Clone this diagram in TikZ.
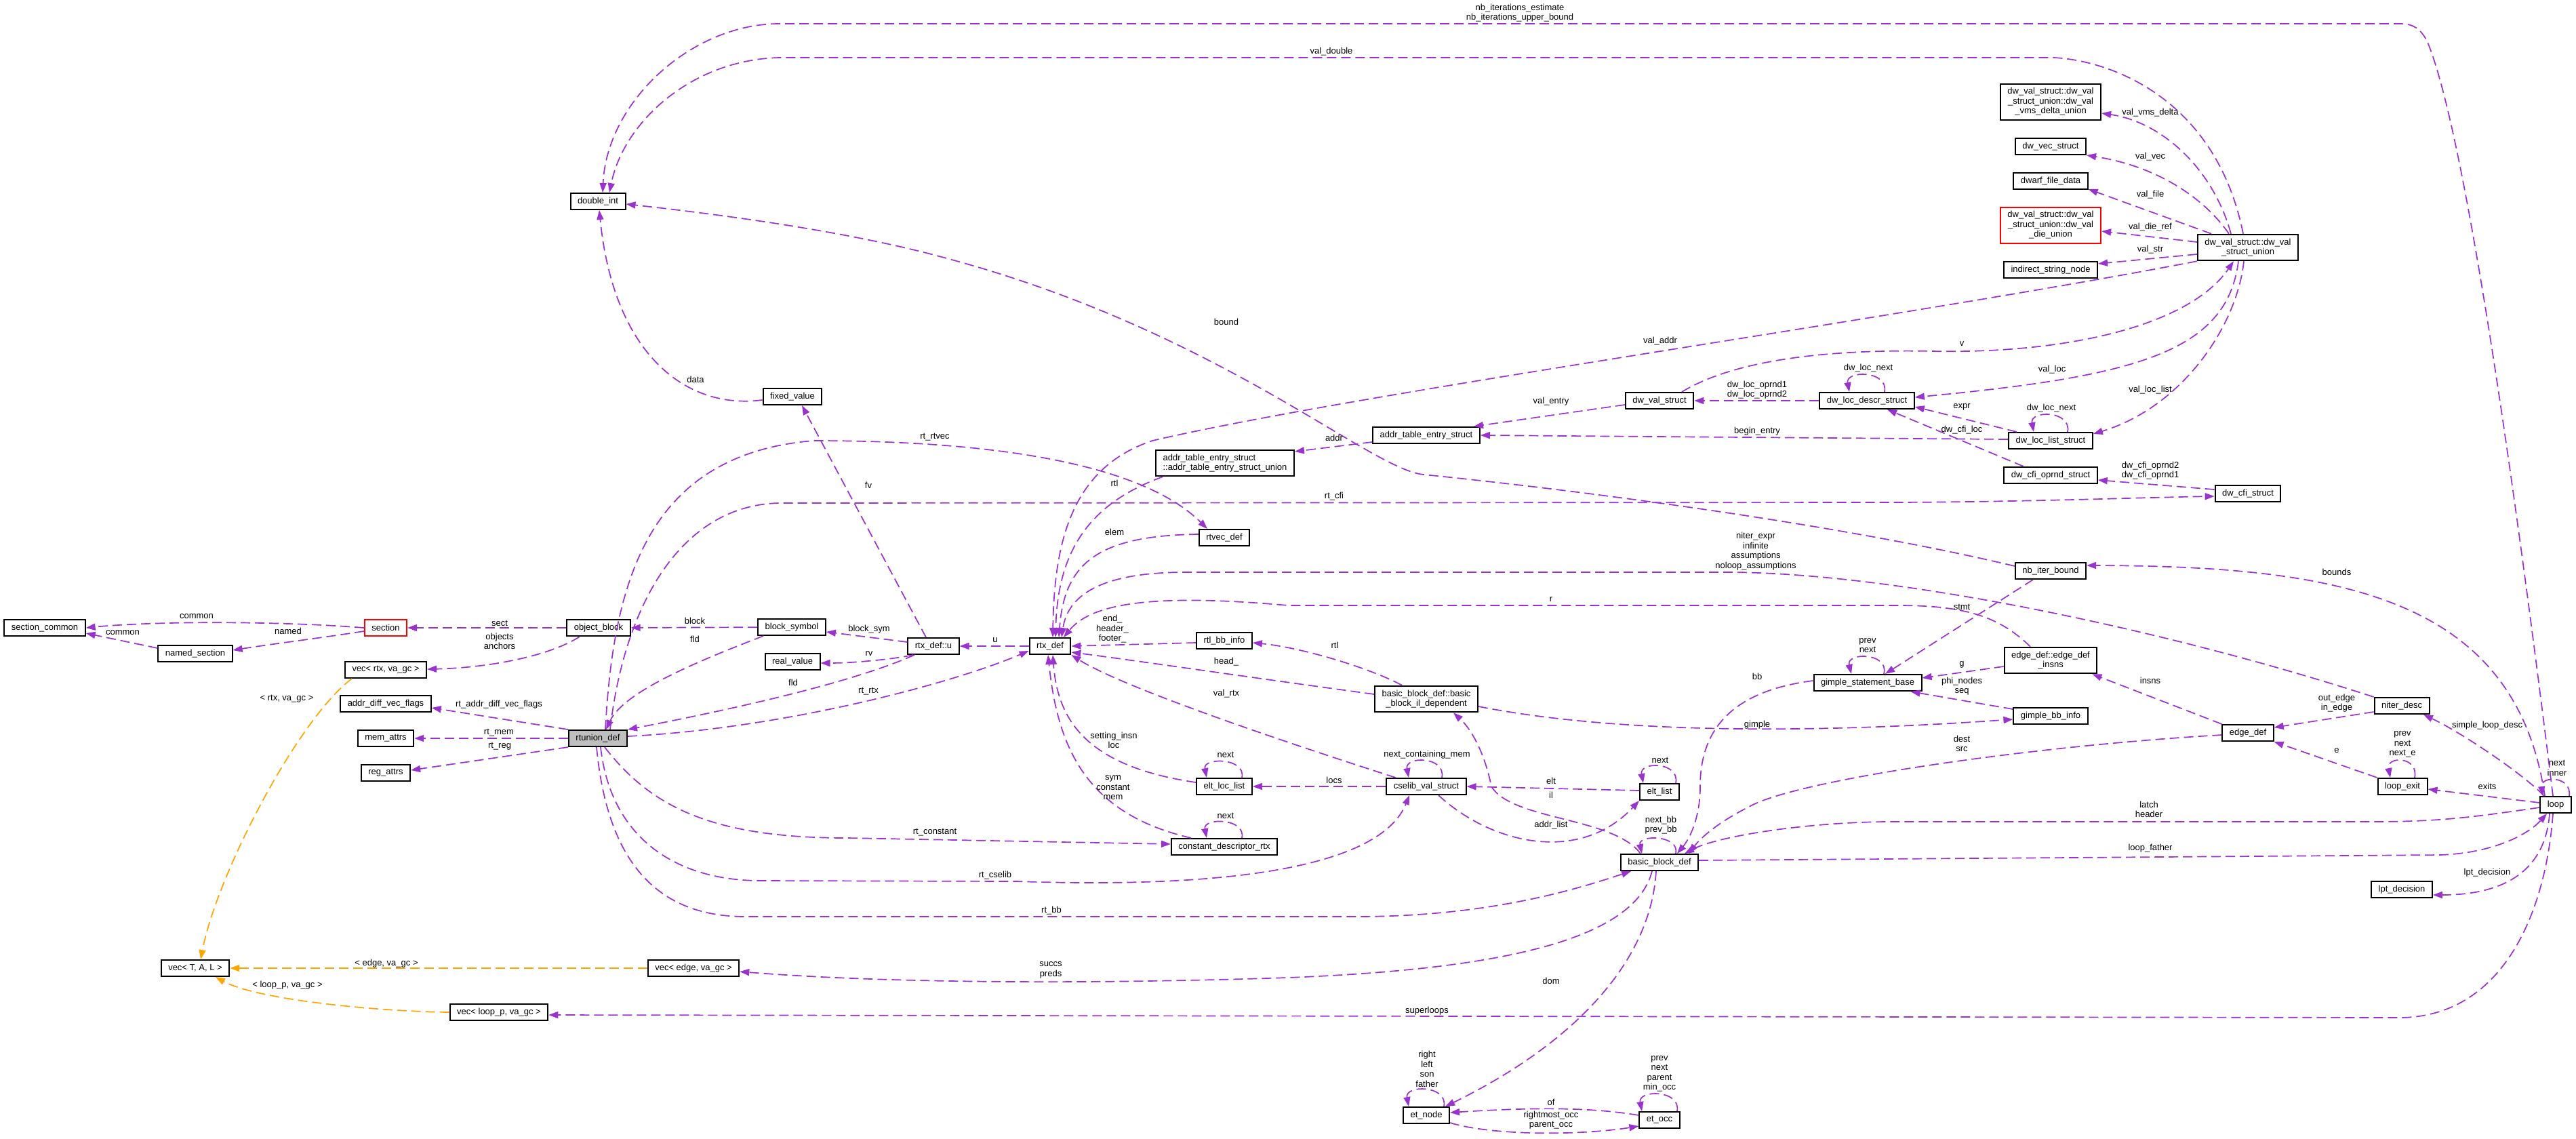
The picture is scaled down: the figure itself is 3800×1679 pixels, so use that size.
\documentclass[tikz,border=0pt]{standalone}
\usepackage{fontspec}
\setmainfont{Liberation Sans}
\usepackage{xcolor}
\usepackage{tikz}
\usetikzlibrary{arrows.meta,calc}

\definecolor{figpurple}{HTML}{9A32CD}
\definecolor{figorange}{HTML}{FFA500}
\definecolor{figgray}{HTML}{BFBFBF}
\definecolor{figred}{HTML}{FF0000}

\tikzset{
  figclass/.style={
    draw,
    rectangle,
    fill=white,
    line width=2pt,
    align=center,
    font=\fontsize{13}{14.5}\selectfont,
    minimum height=24pt,
    inner xsep=10.5pt,
    inner ysep=6pt
  },
  figclassgray/.style={
    figclass,
    fill=figgray
  },
  figclassred/.style={
    figclass,
    draw=figred
  },
  figedge/.style={
    draw=figpurple,
    line width=1.7pt,
    dash pattern=on 14pt off 7pt,
    -{Triangle[length=14pt,width=10pt]}
  },
  figtmpl/.style={
    figedge,
    draw=figorange
  },
  figlabel/.style={
    font=\fontsize{13}{14.5}\selectfont,
    align=center,
    inner sep=0pt
  }
}

\begin{document}
\begin{tikzpicture}[
    x=1pt,
    y=-1pt
    ]

    \path[use as bounding box, fill=white] (0,0) rectangle (3800,1679);

    \node[figclass] (sectioncommon) at (66,926) {section\_common};
    \node[figclass] (namedsection) at (288,964) {named\_section};
    \node[figclassred] (section) at (569,926) {section};
    \node[figclass] (objectblock) at (883,926) {object\_block};
    \node[figclass] (vecrtx) at (569,988) {vec< rtx, va\_gc >};
    \node[figclass] (addrdiffvecflags) at (569,1038) {addr\_diff\_vec\_flags};
    \node[figclass] (memattrs) at (569,1089) {mem\_attrs};
    \node[figclass] (regattrs) at (569,1140) {reg\_attrs};
    \node[figclassgray] (rtuniondef) at (882,1089) {rtunion\_def};
    \node[figclass] (vectal) at (288,1428) {vec< T, A, L >};
    \node[figclass] (vecedge) at (1023,1428) {vec< edge, va\_gc >};
    \node[figclass] (vecloop) at (736,1493) {vec< loop\_p, va\_gc >};
    \node[figclass] (doubleint) at (882,297) {double\_int};
    \node[figclass] (fixedvalue) at (1169,585) {fixed\_value};
    \node[figclass] (blocksymbol) at (1168,925) {block\_symbol};
    \node[figclass] (realvalue) at (1169,976) {real\_value};
    \node[figclass] (rtxdefu) at (1377,953) {rtx\_def::u};
    \node[figclass] (rtxdef) at (1549,953) {rtx\_def};
    \node[figclass] (rtvecdef) at (1806,793) {rtvec\_def};
    \node[figclass, align=left] (addrunion) at (1807,683) {addr\_table\_entry\_struct\\::addr\_table\_entry\_struct\_union};
    \node[figclass] (rtlbbinfo) at (1806,945) {rtl\_bb\_info};
    \node[figclass] (eltloclist) at (1806,1160) {elt\_loc\_list};
    \node[figclass] (constdescrtx) at (1806,1249) {constant\_descriptor\_rtx};
    \node[figclass] (bbildep) at (2104,1031) {basic\_block\_def::basic\\\_block\_il\_dependent};
    \node[figclass] (cselib) at (2104,1160) {cselib\_val\_struct};
    \node[figclass] (addrtableentry) at (2104,642) {addr\_table\_entry\_struct};
    \node[figclass] (dwvalstruct) at (2448,591) {dw\_val\_struct};
    \node[figclass] (eltlist) at (2448,1168) {elt\_list};
    \node[figclass] (basicblockdef) at (2448,1272) {basic\_block\_def};
    \node[figclass] (etnode) at (2104,1645) {et\_node};
    \node[figclass] (etocc) at (2448,1652) {et\_occ};
    \node[figclass] (dwlocdescr) at (2754,591) {dw\_loc\_descr\_struct};
    \node[figclass] (gimplestmt) at (2755,1007) {gimple\_statement\_base};
    \node[figclass] (dwloclist) at (3025,650) {dw\_loc\_list\_struct};
    \node[figclass] (dwcfioprnd) at (3025,701) {dw\_cfi\_oprnd\_struct};
    \node[figclass] (nbiterbound) at (3025,842) {nb\_iter\_bound};
    \node[figclass] (edgedefinsns) at (3025,974) {edge\_def::edge\_def\\\_insns};
    \node[figclass] (gimplebbinfo) at (3025,1056) {gimple\_bb\_info};
    \node[figclass] (vmsdelta) at (3025,150) {dw\_val\_struct::dw\_val\\\_struct\_union::dw\_val\\\_vms\_delta\_union};
    \node[figclass] (dwvecstruct) at (3025,216) {dw\_vec\_struct};
    \node[figclass] (dwarffiledata) at (3025,267) {dwarf\_file\_data};
    \node[figclassred] (dieunion) at (3025,332) {dw\_val\_struct::dw\_val\\\_struct\_union::dw\_val\\\_die\_union};
    \node[figclass] (indirectstring) at (3025,398) {indirect\_string\_node};
    \node[figclass] (dwunion) at (3316,365) {dw\_val\_struct::dw\_val\\\_struct\_union};
    \node[figclass] (dwcfistruct) at (3316,728) {dw\_cfi\_struct};
    \node[figclass] (edgedef) at (3316,1081) {edge\_def};
    \node[figclass] (niterdesc) at (3543,1041) {niter\_desc};
    \node[figclass] (loopexit) at (3544,1160) {loop\_exit};
    \node[figclass] (lptdecision) at (3543,1312) {lpt\_decision};
    \node[figclass] (loop) at (3770,1187) {loop};

    \draw[figedge] (section.west) .. controls (430,917) and (240,915) .. (sectioncommon.east)
      node[figlabel] at (290,909) {common};
    \draw[figedge] ([yshift=8pt]namedsection.west) -- ([yshift=-8pt]sectioncommon.east)
      node[figlabel] at (181,933) {common};
    \draw[figedge] ([yshift=-5pt]section.west) .. controls (480,940) and (400,950) .. ([yshift=5pt]namedsection.east)
      node[figlabel] at (425,931) {named};
    \draw[figedge] (objectblock) -- (section)
      node[figlabel] at (737,919) {sect};
    \draw[figedge] ([xshift=-28pt]objectblock.south) .. controls (810,968) and (720,985) .. ([yshift=1pt]vecrtx.east)
      node[figlabel] at (737,946) {objects\\anchors};
    \draw[figtmpl] ([xshift=-50pt]vecrtx.south) .. controls (440,1060) and (320,1290) .. ([xshift=8pt]vectal.north)
      node[figlabel] at (423,1031) {< rtx, va\_gc >};
    \draw[figedge] (rtuniondef.north west) -- ([yshift=-6pt]addrdiffvecflags.east)
      node[figlabel] at (736,1039) {rt\_addr\_diff\_vec\_flags};
    \draw[figedge] (rtuniondef) -- (memattrs)
      node[figlabel] at (736,1081) {rt\_mem};
    \draw[figedge] (rtuniondef.south west) -- ([yshift=4pt]regattrs.east)
      node[figlabel] at (737,1101) {rt\_reg};
    \draw[figtmpl] (vecedge) -- (vectal)
      node[figlabel] at (570,1421) {< edge, va\_gc >};
    \draw[figtmpl] (vecloop.west) .. controls (560,1492) and (380,1475) .. ([xshift=30pt]vectal.south)
      node[figlabel] at (424,1453) {< loop\_p, va\_gc >};

    \draw[figedge] (blocksymbol) -- (objectblock)
      node[figlabel] at (1025,916) {block};
    \draw[figedge] ([xshift=-42pt]blocksymbol.south) .. controls (1030,975) and (920,1020) .. ([xshift=12pt]rtuniondef.north)
      node[figlabel] at (1025,943) {fld};
    \draw[figedge] ([yshift=6pt]rtxdefu.west) -- ([yshift=-7pt]blocksymbol.east)
      node[figlabel] at (1282,928) {block\_sym};
    \draw[figedge] ([xshift=-30pt]rtxdefu.south) .. controls (1320,972) and (1260,978) .. ([yshift=-2pt]realvalue.east)
      node[figlabel] at (1282,964) {rv};
    \draw[figedge] ([xshift=-28pt]rtxdefu.south) .. controls (1250,1010) and (1060,1050) .. (rtuniondef.north east)
      node[figlabel] at (1170,1007) {fld};
    \draw[figedge] ([yshift=3pt]rtuniondef.east) .. controls (1150,1075) and (1400,1010) .. ([yshift=-7pt]rtxdef.west)
      node[figlabel] at (1281,1020) {rt\_rtx};
    \draw[figedge] (rtxdef) -- (rtxdefu)
      node[figlabel] at (1468,944) {u};
    \draw[figedge] ([xshift=-11pt]rtxdefu.north) -- ([xshift=14pt]fixedvalue.south)
      node[figlabel] at (1281,716) {fv};
    \draw[figedge] ([yshift=-5pt]fixedvalue.west) .. controls (1010,605) and (905,520) .. ([xshift=2pt]doubleint.south)
      node[figlabel] at (1026,560) {data};
    \draw[figedge] ([xshift=11pt]rtuniondef.north) .. controls (905,850) and (960,670) .. (1200,650)
      .. controls (1450,650) and (1680,680) .. ([xshift=-25pt]rtvecdef.north)
      node[figlabel] at (1379,645) {rt\_rtvec};
    \draw[figedge] ([xshift=18pt]rtuniondef.north) .. controls (920,900) and (1000,745) .. (1150,742) -- (2800,741)
      .. controls (3000,740) and (3150,734) .. ([yshift=-4pt]dwcfistruct.west)
      node[figlabel] at (1968,732) {rt\_cfi};
    \draw[figedge] ([xshift=10pt]rtuniondef.south) .. controls (960,1190) and (1050,1236) .. (1250,1236)
      -- ([yshift=4pt]constdescrtx.west)
      node[figlabel] at (1379,1228) {rt\_constant};
    \draw[figedge] ([xshift=4pt]rtuniondef.south) .. controls (900,1230) and (990,1298) .. (1120,1299) -- (1500,1300)
      .. controls (1850,1312) and (2040,1270) .. ([xshift=-25pt]cselib.south)
      node[figlabel] at (1468,1291) {rt\_cselib};
    \draw[figedge] ([xshift=-2pt]rtuniondef.south) .. controls (895,1260) and (960,1352) .. (1100,1352) -- (2000,1352)
      .. controls (2200,1352) and (2330,1310) .. ([xshift=-42pt]basicblockdef.south)
      node[figlabel] at (1551,1343) {rt\_bb};

    \draw[figedge] ([yshift=-3pt]rtlbbinfo.west) -- (rtxdef.east)
      node[figlabel] at (1641,928) {end\_\\header\_\\footer\_};
    \draw[figedge] ([yshift=7pt]bbildep.west) .. controls (1850,1000) and (1680,975) .. ([yshift=-9pt]rtxdef.east)
      node[figlabel] at (1809,976) {head\_};
    \draw[figedge] ([xshift=-36pt]bbildep.north) .. controls (2020,985) and (1920,955) .. ([yshift=-3pt]rtlbbinfo.east)
      node[figlabel] at (1969,952) {rtl};
    \draw[figedge] ([xshift=-45pt]cselib.north) .. controls (1850,1080) and (1650,1010) .. (rtxdef.south east)
      node[figlabel] at (1809,1023) {val\_rtx};
    \draw[figedge] ([yshift=6pt]eltloclist.west) .. controls (1600,1130) and (1560,1060) .. ([xshift=4pt]rtxdef.south)
      node[figlabel] at (1643,1092) {setting\_insn\\loc};
    \draw[figedge] ([xshift=-49pt]constdescrtx.north) .. controls (1600,1200) and (1560,1100) .. ([xshift=-3pt]rtxdef.south)
      node[figlabel] at (1642,1162) {sym\\constant\\mem};
    \draw[figedge] ([yshift=5pt]rtvecdef.west) .. controls (1620,790) and (1570,830) .. ([xshift=13pt]rtxdef.north)
      node[figlabel] at (1644,785) {elem};
    \draw[figedge] ([xshift=-92pt]addrunion.south) .. controls (1600,745) and (1560,820) .. ([xshift=8pt]rtxdef.north)
      node[figlabel] at (1644,713) {rtl};
    \draw[figedge] (dwunion.south west) .. controls (2800,470) and (2000,580) .. (1700,650)
      .. controls (1580,690) and (1555,800) .. ([xshift=4pt]rtxdef.north)
      node[figlabel] at (2449,503) {val\_addr};
    \draw[figedge] (niterdesc.north west) .. controls (3200,930) and (2800,845) .. (2550,844) -- (1750,844)
      .. controls (1620,844) and (1575,880) .. ([xshift=17pt]rtxdef.north)
      node[figlabel] at (2590,813) {niter\_expr\\infinite\\assumptions\\noloop\_assumptions};
    \draw[figedge] ([xshift=-30pt]edgedefinsns.north) .. controls (2950,910) and (2900,893) .. (2800,893) -- (1900,893)
      .. controls (1700,875) and (1610,890) .. ([xshift=20pt]rtxdef.north)
      node[figlabel] at (2288,884) {r};

    \draw[figedge] ([yshift=-9pt]edgedefinsns.west) -- ([yshift=7pt]gimplestmt.east)
      node[figlabel] at (2894,980) {g};
    \draw[figedge] ([yshift=10pt]gimplebbinfo.west) -- ([xshift=-17pt]gimplestmt.south east)
      node[figlabel] at (2894,1012) {phi\_nodes\\seq};
    \draw[figedge] ([xshift=24pt]gimplestmt.north) .. controls +(8,-32) and +(-8,-32) .. ([xshift=-24pt]gimplestmt.north)
      node[figlabel] at (2755,952) {prev\\next};
    \draw[figedge] ([xshift=-26pt]nbiterbound.south) -- ([xshift=26pt]gimplestmt.north)
      node[figlabel] at (2894,895) {stmt};
    \draw[figedge] ([yshift=-11pt]bbildep.east) .. controls (2400,1085) and (2700,1080) .. ([yshift=-5pt]gimplebbinfo.west)
      node[figlabel] at (2592,1069) {gimple};
    \draw[figedge] ([yshift=3pt]gimplestmt.west) .. controls (2550,1020) and (2508,1080) .. (2508,1160)
      .. controls (2508,1210) and (2490,1240) .. ([xshift=26pt]basicblockdef.north)
      node[figlabel] at (2592,998) {bb};

    \draw[figedge] ([xshift=24pt]basicblockdef.north) .. controls +(6,-28) and +(-6,-28) .. ([xshift=-26pt]basicblockdef.north)
      node[figlabel] at (2450,1217) {next\_bb\\prev\_bb};
    \draw[figedge] ([xshift=24pt]eltlist.north) .. controls +(6,-32) and +(-6,-32) .. ([xshift=-24pt]eltlist.north)
      node[figlabel] at (2449,1121) {next};
    \draw[figedge] ([yshift=2pt]eltlist.west) -- (cselib.east)
      node[figlabel] at (2288,1152) {elt};
    \draw[figedge] ([xshift=18pt]cselib.south) .. controls (2200,1245) and (2330,1275) .. (eltlist.south west)
      node[figlabel] at (2288,1217) {addr\_list};
    \draw[figedge] ([xshift=-28pt]basicblockdef.north) .. controls (2380,1205) and (2230,1210) .. (2200,1160)
      .. controls (2190,1110) and (2170,1075) .. ([xshift=40pt]bbildep.south)
      node[figlabel] at (2288,1173) {il};
    \draw[figedge] ([xshift=23pt]cselib.north) .. controls +(6,-32) and +(-6,-32) .. ([xshift=-26pt]cselib.north)
      node[figlabel] at (2105,1113) {next\_containing\_mem};
    \draw[figedge] (cselib) -- (eltloclist)
      node[figlabel] at (1968,1151) {locs};
    \draw[figedge] ([xshift=26pt]eltloclist.north) .. controls +(6,-30) and +(-6,-30) .. ([xshift=-26pt]eltloclist.north)
      node[figlabel] at (1808,1113) {next};
    \draw[figedge] ([xshift=26pt]constdescrtx.north) .. controls +(6,-30) and +(-6,-30) .. ([xshift=-26pt]constdescrtx.north)
      node[figlabel] at (1808,1203) {next};

    \draw[figedge] ([xshift=-5pt]basicblockdef.south) .. controls (2435,1420) and (2320,1540) .. ([xshift=28pt]etnode.north)
      node[figlabel] at (2288,1447) {dom};
    \draw[figedge] ([xshift=26pt]etnode.north) .. controls +(6,-32) and +(-6,-32) .. ([xshift=-26pt]etnode.north)
      node[figlabel] at (2105,1577) {right\\left\\son\\father};
    \draw[figedge] ([yshift=7pt]etocc.west) .. controls (2340,1632) and (2250,1634) .. ([yshift=4pt]etnode.east)
      node[figlabel] at (2288,1626) {of};
    \draw[figedge] ([yshift=-11pt]etnode.east) .. controls (2200,1675) and (2330,1675) .. ([yshift=-9pt]etocc.west)
      node[figlabel] at (2288,1652) {rightmost\_occ\\parent\_occ};
    \draw[figedge] ([xshift=26pt]etocc.north) .. controls +(6,-32) and +(-6,-32) .. ([xshift=-26pt]etocc.north)
      node[figlabel] at (2448,1584) {prev\\next\\parent\\min\_occ};

    \draw[figedge] ([yshift=-3pt]edgedef.west) .. controls (3000,1100) and (2650,1150) .. (2580,1190)
      .. controls (2530,1215) and (2505,1240) .. ([xshift=44pt]basicblockdef.north)
      node[figlabel] at (2894,1097) {dest\\src};
    \draw[figedge] ([yshift=-4pt]loop.west) .. controls (3650,1205) and (3600,1212) .. (3500,1212) -- (2780,1212)
      .. controls (2650,1214) and (2530,1235) .. ([xshift=37pt]basicblockdef.north)
      node[figlabel] at (3170,1194) {latch\\header};
    \draw[figedge] ([yshift=3pt]basicblockdef.east) -- (3600,1261) .. controls (3680,1258) and (3730,1230) .. ([xshift=-13pt]loop.south)
      node[figlabel] at (3172,1251) {loop\_father};
    \draw[figedge] ([xshift=-11pt]basicblockdef.south) .. controls (2410,1390) and (2200,1430) .. (1900,1442)
      .. controls (1600,1452) and (1300,1450) .. ([yshift=-5pt]vecedge.east)
      node[figlabel] at (1550,1431) {succs\\preds};
    \draw[figedge] ([xshift=-4pt]loop.south) .. controls (3755,1350) and (3690,1500) .. (3540,1501) -- ([yshift=-4pt]vecloop.east)
      node[figlabel] at (2105,1491) {superloops};
    \draw[figedge] ([xshift=-9pt]loop.south) .. controls (3755,1280) and (3700,1320) .. ([yshift=-8pt]lptdecision.east)
      node[figlabel] at (3669,1287) {lpt\_decision};
    \draw[figedge] ([yshift=3pt]loop.west) -- ([yshift=-4pt]loopexit.east)
      node[figlabel] at (3669,1160) {exits};
    \draw[figedge] (loopexit.north west) -- (edgedef.south east)
      node[figlabel] at (3447,1107) {e};
    \draw[figedge] ([xshift=18pt]loopexit.north) .. controls +(6,-32) and +(-6,-32) .. ([xshift=-18pt]loopexit.north)
      node[figlabel] at (3544,1098) {prev\\next\\next\_e};
    \draw[figedge] ([yshift=-9pt]niterdesc.west) -- ([yshift=8pt]edgedef.east)
      node[figlabel] at (3447,1037) {out\_edge\\in\_edge};
    \draw[figedge] (edgedef.north west) -- ([xshift=-8pt]edgedefinsns.south east)
      node[figlabel] at (3172,1004) {insns};
    \draw[figedge] ([xshift=-17pt]loop.north) .. controls (3720,1140) and (3630,1080) .. ([xshift=32pt]niterdesc.south)
      node[figlabel] at (3669,1070) {simple\_loop\_desc};
    \draw[figedge] ([xshift=-16pt]loop.north) .. controls (3710,880) and (3450,835) .. ([yshift=8pt]nbiterbound.east)
      node[figlabel] at (3447,844) {bounds};
    \draw[figedge] ([xshift=20pt]loop.north) .. controls +(4,-30) and +(-4,-30) .. ([xshift=-19pt]loop.north)
      node[figlabel] at (3772,1133) {next\\inner};

    \draw[figedge] ([xshift=-4pt]loop.north) .. controls (3720,800) and (3640,200) .. (3580,60)
      .. controls (3570,42) and (3560,35) .. (3540,35) -- (1150,35)
      .. controls (1020,35) and (895,150) .. ([xshift=7pt]doubleint.north)
      node[figlabel] at (2242,19) {nb\_iterations\_estimate\\nb\_iterations\_upper\_bound};
    \draw[figedge] ([xshift=-7pt]dwunion.north) .. controls (3270,150) and (3120,90) .. (3030,85) -- (1150,85)
      .. controls (1020,88) and (920,180) .. ([xshift=17pt]doubleint.north)
      node[figlabel] at (1964,76) {val\_double};
    \draw[figedge] ([yshift=7pt]nbiterbound.west) .. controls (2700,770) and (2300,720) .. (2100,700)
      .. controls (2020,692) and (1800,490) .. (1400,382)
      .. controls (1250,340) and (1050,315) .. ([yshift=-4pt]doubleint.east)
      node[figlabel] at (1809,475) {bound};

    \draw[figedge] ([xshift=33pt]dwvalstruct.north) .. controls (2560,530) and (2700,515) .. (2850,518)
      .. controls (3050,522) and (3230,480) .. ([xshift=-21pt]dwunion.south)
      node[figlabel] at (2894,507) {v};
    \draw[figedge] ([xshift=-14pt]dwunion.south) .. controls (3285,520) and (3150,555) .. ([yshift=5pt]dwlocdescr.east)
      node[figlabel] at (3027,545) {val\_loc};
    \draw[figedge] ([xshift=-6pt]dwunion.south) .. controls (3300,480) and (3220,600) .. ([yshift=10pt]dwloclist.east)
      node[figlabel] at (3172,575) {val\_loc\_list};
    \draw[figedge] ([xshift=26pt]dwlocdescr.north) .. controls +(6,-32) and +(-6,-32) .. ([xshift=-26pt]dwlocdescr.north)
      node[figlabel] at (2756,543) {dw\_loc\_next};
    \draw[figedge] (dwlocdescr) -- (dwvalstruct)
      node[figlabel] at (2592,575) {dw\_loc\_oprnd1\\dw\_loc\_oprnd2};
    \draw[figedge] ([yshift=-6pt]dwvalstruct.west) -- ([xshift=70pt]addrtableentry.north)
      node[figlabel] at (2288,592) {val\_entry};
    \draw[figedge] ([yshift=2pt]dwloclist.west) -- (addrtableentry.east)
      node[figlabel] at (2592,636) {begin\_entry};
    \draw[figedge] ([yshift=-10pt]addrtableentry.west) -- ([yshift=17pt]addrunion.east)
      node[figlabel] at (1968,646) {addr};
    \draw[figedge] ([xshift=-50pt]dwloclist.north) -- ([yshift=-9pt]dwlocdescr.east)
      node[figlabel] at (2894,600) {expr};
    \draw[figedge] ([xshift=25pt]dwloclist.north) .. controls +(6,-32) and +(-6,-32) .. ([xshift=-25pt]dwloclist.north)
      node[figlabel] at (3026,602) {dw\_loc\_next};
    \draw[figedge] ([xshift=-40pt]dwcfioprnd.north) -- ([xshift=30pt]dwlocdescr.south)
      node[figlabel] at (2894,634) {dw\_cfi\_loc};
    \draw[figedge] ([yshift=6pt]dwcfistruct.west) -- ([yshift=-7pt]dwcfioprnd.east)
      node[figlabel] at (3172,694) {dw\_cfi\_oprnd2\\dw\_cfi\_oprnd1};
    \draw[figedge] ([xshift=-25pt]dwunion.north) .. controls (3265,250) and (3190,180) .. ([yshift=-17pt]vmsdelta.east)
      node[figlabel] at (3172,166) {val\_vms\_delta};
    \draw[figedge] ([xshift=-28pt]dwunion.north) .. controls (3250,290) and (3180,245) .. ([yshift=-13pt]dwvecstruct.east)
      node[figlabel] at (3172,231) {val\_vec};
    \draw[figedge] ([xshift=-54pt]dwunion.north) -- ([yshift=-12pt]dwarffiledata.east)
      node[figlabel] at (3172,287) {val\_file};
    \draw[figedge] ([yshift=8pt]dwunion.west) -- ([yshift=-9pt]dieunion.east)
      node[figlabel] at (3172,335) {val\_die\_ref};
    \draw[figedge] ([yshift=-10pt]dwunion.west) -- ([yshift=9pt]indirectstring.east)
      node[figlabel] at (3172,368) {val\_str};

\end{tikzpicture}
\end{document}
